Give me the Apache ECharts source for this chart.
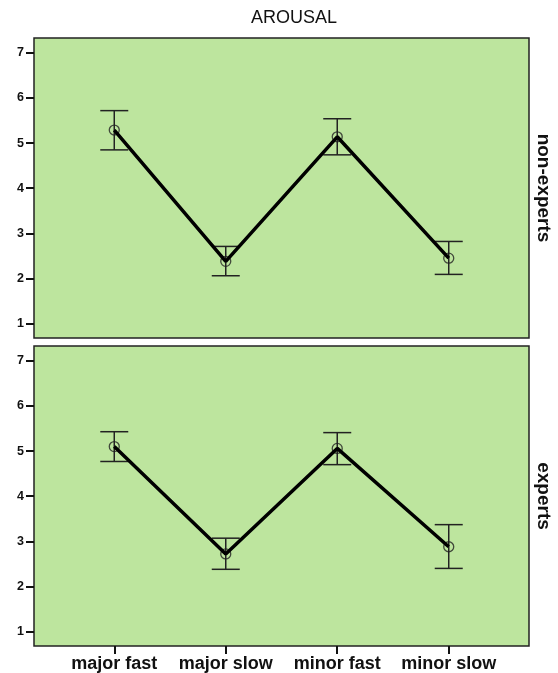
<!DOCTYPE html>
<html>
<head>
<meta charset="utf-8">
<script src="https://cdn.jsdelivr.net/npm/echarts@6/dist/echarts.min.js"></script>
<style>
html,body{margin:0;padding:0;background:#fff;}
#c{width:558px;height:673px;}
</style>
</head>
<body>
<div id="c"></div>
<script>
const categories = ['major fast', 'major slow', 'minor fast', 'minor slow'];
const yTicks = [1, 2, 3, 4, 5, 6, 7];
const panelLabels = ['non-experts', 'experts'];
const nonExpertsMean = [5.29, 2.38, 5.14, 2.45];
const nonExpertsLow  = [4.85, 2.06, 4.74, 2.09];
const nonExpertsHigh = [5.72, 2.71, 5.54, 2.82];
const expertsMean = [5.10, 2.72, 5.06, 2.88];
const expertsLow  = [4.77, 2.38, 4.70, 2.40];
const expertsHigh = [5.43, 3.07, 5.41, 3.37];

const FONT = 'Liberation Sans, Arial, sans-serif';
const GREEN = '#bde59e';
const xIdx = categories.map((c, i) => i);

function yAxisDef(gi) {
  return {
    type: 'value', gridIndex: gi, min: 0.68, max: 7.33,
    axisLine: { show: false, onZero: false },
    splitLine: { show: false },
    axisTick: { show: true, length: 8, customValues: yTicks, lineStyle: { color: '#111', width: 2 } },
    axisLabel: { customValues: yTicks, margin: 10, fontFamily: FONT, fontSize: 12.5, fontWeight: 'bold', color: '#111' }
  };
}
function xAxisDef(gi, showLabels) {
  return {
    type: 'value', gridIndex: gi, min: -0.72, max: 3.72,
    axisLine: { show: false, onZero: false },
    splitLine: { show: false },
    axisTick: { show: showLabels, length: 8, customValues: xIdx, lineStyle: { color: '#111', width: 2 } },
    axisLabel: {
      show: showLabels, customValues: xIdx, margin: 9,
      fontFamily: FONT, fontSize: 18, fontWeight: 'bold', color: '#111',
      formatter: v => categories[Math.round(v)]
    }
  };
}
function errorSeries(gi, low, high) {
  return {
    type: 'custom', xAxisIndex: gi, yAxisIndex: gi, z: 2, silent: true,
    data: xIdx.map(i => [i, low[i], high[i]]),
    renderItem: function (params, api) {
      const lo = api.coord([api.value(0), api.value(1)]);
      const hi = api.coord([api.value(0), api.value(2)]);
      const w = 14;
      const style = { stroke: '#222', lineWidth: 1.5, fill: null };
      return {
        type: 'group',
        children: [
          { type: 'line', shape: { x1: lo[0], y1: lo[1], x2: hi[0], y2: hi[1] }, style: style },
          { type: 'line', shape: { x1: hi[0] - w, y1: hi[1], x2: hi[0] + w, y2: hi[1] }, style: style },
          { type: 'line', shape: { x1: lo[0] - w, y1: lo[1], x2: lo[0] + w, y2: lo[1] }, style: style }
        ]
      };
    }
  };
}
function pointSeries(gi, mean) {
  return {
    type: 'scatter', xAxisIndex: gi, yAxisIndex: gi, z: 3, silent: true,
    symbol: 'circle', symbolSize: 10,
    itemStyle: { color: 'rgba(0,0,0,0)', borderColor: '#222', borderWidth: 1.3 },
    data: xIdx.map(i => [i, mean[i]])
  };
}
function lineSeries(gi, mean) {
  return {
    type: 'line', xAxisIndex: gi, yAxisIndex: gi, z: 4, silent: true,
    symbol: 'none', lineStyle: { color: '#000', width: 3.5 },
    data: xIdx.map(i => [i, mean[i]])
  };
}

const chart = echarts.init(document.getElementById('c'), null, { renderer: 'canvas' });
chart.setOption({
  animation: false,
  backgroundColor: '#fff',
  grid: [
    { left: 34, top: 38, width: 495, height: 300, show: true, backgroundColor: GREEN, borderColor: '#222', borderWidth: 1.5 },
    { left: 34, top: 346, width: 495, height: 301, show: true, backgroundColor: GREEN, borderColor: '#222', borderWidth: 1.5 }
  ],
  xAxis: [xAxisDef(0, false), xAxisDef(1, true)],
  yAxis: [yAxisDef(0), yAxisDef(1)],
  graphic: [
    { type: 'text', x: 294, y: 18, style: { text: 'AROUSAL', font: '18px ' + FONT, fill: '#111', align: 'center', verticalAlign: 'middle' } },
    { type: 'text', x: 543, y: 188, rotation: -Math.PI / 2, style: { text: panelLabels[0], font: 'bold 19px ' + FONT, fill: '#111', align: 'center', verticalAlign: 'middle' } },
    { type: 'text', x: 543, y: 496, rotation: -Math.PI / 2, style: { text: panelLabels[1], font: 'bold 19px ' + FONT, fill: '#111', align: 'center', verticalAlign: 'middle' } }
  ],
  series: [
    errorSeries(0, nonExpertsLow, nonExpertsHigh),
    pointSeries(0, nonExpertsMean),
    lineSeries(0, nonExpertsMean),
    errorSeries(1, expertsLow, expertsHigh),
    pointSeries(1, expertsMean),
    lineSeries(1, expertsMean)
  ]
});
</script>
</body>
</html>
